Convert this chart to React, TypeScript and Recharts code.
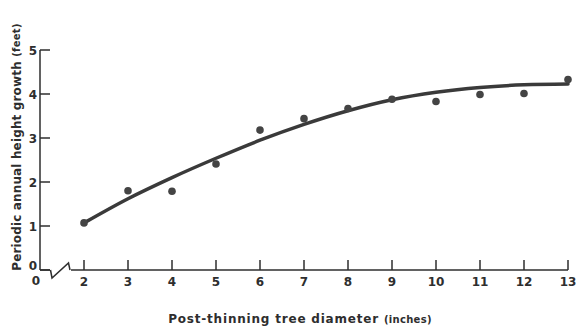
import React from 'react';
import { ComposedChart, Line, Scatter, XAxis, YAxis, Label } from 'recharts';

// Tree diameter after thinning (inches)
const diameters = [2, 3, 4, 5, 6, 7, 8, 9, 10, 11, 12, 13];
// Observed periodic annual height growth (feet)
const observedGrowth = [1.07, 1.8, 1.79, 2.41, 3.18, 3.44, 3.67, 3.88, 3.83, 3.99, 4.01, 4.33];
// Smoothed growth curve (feet)
const fittedGrowth = [1.07, 1.62, 2.1, 2.54, 2.95, 3.31, 3.62, 3.87, 4.04, 4.15, 4.21, 4.23];

// The x axis is broken: position 1 carries the "0" origin label
const BREAK_POS = 1;
const xTicks = [1, 2, 3, 4, 5, 6, 7, 8, 9, 10, 11, 12, 13];
const yTicks = [0, 1, 2, 3, 4, 5];

const data = diameters.map((d, i) => ({
  d,
  observed: observedGrowth[i],
  fitted: fittedGrowth[i],
}));

const INK = '#2e2e2e';
const FONT = '"DejaVu Sans", sans-serif';

const XTick = (props: any) => {
  const { x, y, payload } = props;
  const v = payload.value;
  if (v === BREAK_POS) {
    return (
      <g>
        <rect x={x + 10} y={y - 3} width={21} height={6} fill="#fff" />
        <path
          d={`M${x + 10.5},${y} L${x + 12},${y + 8} L${x + 28.5},${y - 7} L${x + 30},${y}`}
          fill="none"
          stroke={INK}
          strokeWidth={1.5}
        />
        <text x={x - 4} y={y + 15} textAnchor="middle" fontFamily={FONT} fontWeight="bold" fontSize={12} fill={INK}>
          0
        </text>
      </g>
    );
  }
  return (
    <g>
      <line x1={x} x2={x} y1={y} y2={y - 10} stroke={INK} strokeWidth={1.5} />
      <text x={x} y={y + 16} textAnchor="middle" fontFamily={FONT} fontWeight="bold" fontSize={12} fill={INK}>
        {v}
      </text>
    </g>
  );
};

const YTick = (props: any) => {
  const { x, y, payload } = props;
  // lift the origin label clear of the x axis "0"
  const dy = payload.value === 0 ? -4 : 1;
  return (
    <g>
      <line x1={x} x2={x + 10} y1={y} y2={y} stroke={INK} strokeWidth={1.5} />
      <text x={x - 3} y={y + dy} textAnchor="end" dominantBaseline="middle" fontFamily={FONT} fontWeight="bold" fontSize={12} fill={INK}>
        {payload.value}
      </text>
    </g>
  );
};

const XTitle = (props: any) => {
  const { viewBox } = props;
  const cx = viewBox.x + viewBox.width / 2 - 4;
  return (
    <text x={cx} y={323} textAnchor="middle" fontFamily={FONT} fontWeight="bold" fontSize={12} letterSpacing={0.8} fill={INK}>
      Post-thinning tree diameter <tspan fontSize={10} letterSpacing={0.3}>(inches)</tspan>
    </text>
  );
};

const YTitle = (props: any) => {
  const { viewBox } = props;
  const cy = viewBox.y + viewBox.height / 2 - 13;
  return (
    <text
      x={17}
      y={cy}
      transform={`rotate(-90, 17, ${cy})`}
      textAnchor="middle"
      dominantBaseline="middle"
      fontFamily={FONT}
      fontWeight="bold"
      fontSize={12}
      letterSpacing={0.15}
      fill={INK}
    >
      Periodic annual height growth <tspan fontSize={10} letterSpacing={0.3}>(feet)</tspan>
    </text>
  );
};

const Dot = (props: any) => <circle cx={props.cx} cy={props.cy} r={3.8} fill="#444" />;

export default function App() {
  return (
    <div style={{ position: 'absolute', left: 0, top: 0, background: '#fff' }}>
      <ComposedChart width={581} height={332} data={data} margin={{ top: 50, right: 13, bottom: 32, left: 0 }}>
        <XAxis
          dataKey="d"
          type="number"
          domain={[1, 13]}
          ticks={xTicks}
          interval={0}
          height={30}
          tickSize={0}
          tickMargin={0}
          tickLine={false}
          axisLine={{ stroke: INK, strokeWidth: 1.5 }}
          tick={<XTick />}
        >
          <Label content={<XTitle />} />
        </XAxis>
        <YAxis
          type="number"
          domain={[0, 5]}
          ticks={yTicks}
          interval={0}
          width={40}
          tickSize={0}
          tickMargin={0}
          tickLine={false}
          axisLine={{ stroke: INK, strokeWidth: 1.5 }}
          tick={<YTick />}
        >
          <Label content={<YTitle />} />
        </YAxis>
        <Line
          dataKey="fitted"
          type="monotone"
          stroke="#3a3a3a"
          strokeWidth={3.5}
          strokeLinecap="round"
          dot={false}
          activeDot={false}
          isAnimationActive={false}
        />
        <Scatter dataKey="observed" shape={<Dot />} isAnimationActive={false} />
      </ComposedChart>
    </div>
  );
}
